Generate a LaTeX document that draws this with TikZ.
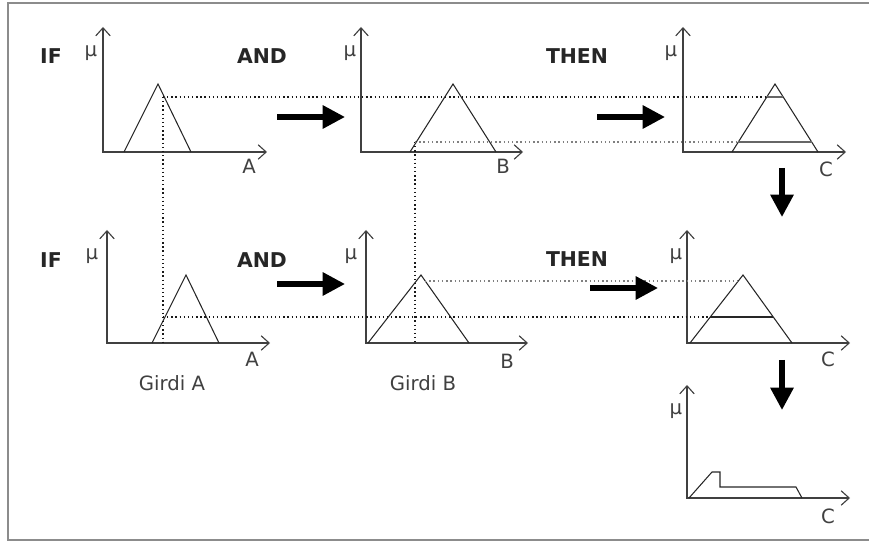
\documentclass[tikz,border=0pt]{standalone}
\usepackage{fontspec}
\setmainfont{DejaVu Sans}
\usetikzlibrary{arrows.meta,positioning}
\tikzset{
  frameline/.style={draw=black!45, line width=1.4pt},
  axisline/.style={{Straight Barb[length=2mm,width=3.6mm]}-{Straight Barb[length=2mm,width=3.6mm]}, draw=black!75, line width=0.8pt},
  setline/.style={draw=black!85, line width=0.75pt, line join=miter},
  cutline/.style={draw=black!60, line width=0.9pt},
  dotline/.style={dotted, draw=black!90, line width=0.95pt},
  graydot/.style={dotted, draw=black!50, line width=1pt},
  bigarrow/.style={-{Triangle[length=5.6mm,width=5.6mm]}, line width=3.6pt, black},
  rulelabel/.style={font=\bfseries\fontsize{14.5}{17}\selectfont, text=black!85, inner sep=0pt},
  axlabel/.style={font=\fontsize{14}{16}\selectfont, text=black!75, inner sep=0pt},
}

\begin{document}
\begin{tikzpicture}[x=0.025cm, y=-0.025cm]
  \useasboundingbox (0,0) rectangle (869,543);
  \draw[frameline] (872,3) -- (8,3) -- (8,540) -- (872,540);

  % panel corners: top of y axis, origin, end of x axis
  \coordinate (aTop) at (103,27);  \coordinate (aO) at (103,152); \coordinate (aEnd) at (267,152);
  \coordinate (bTop) at (361,27);  \coordinate (bO) at (361,152); \coordinate (bEnd) at (523,152);
  \coordinate (cTop) at (683,27);  \coordinate (cO) at (683,152); \coordinate (cEnd) at (846,152);
  \coordinate (dTop) at (107,230); \coordinate (dO) at (107,343); \coordinate (dEnd) at (270,343);
  \coordinate (eTop) at (366,230); \coordinate (eO) at (366,343); \coordinate (eEnd) at (528,343);
  \coordinate (fTop) at (687,230); \coordinate (fO) at (687,343); \coordinate (fEnd) at (850,343);
  \coordinate (gTop) at (687,385); \coordinate (gO) at (687,498); \coordinate (gEnd) at (850,498);

  \draw[axisline] (aTop) -- (aO) -- (aEnd);
  \draw[axisline] (bTop) -- (bO) -- (bEnd);
  \draw[axisline] (cTop) -- (cO) -- (cEnd);
  \draw[axisline] (dTop) -- (dO) -- (dEnd);
  \draw[axisline] (eTop) -- (eO) -- (eEnd);
  \draw[axisline] (fTop) -- (fO) -- (fEnd);
  \draw[axisline] (gTop) -- (gO) -- (gEnd);

  % membership functions
  \draw[setline] (124,152) -- (158,84) -- (191,152);
  \draw[setline] (410,152) -- (453,84) -- (496,152);
  \draw[setline] (732,152) -- (775,84) -- (818,152);
  \draw[setline] (152,343) -- (186,275) -- (219,343);
  \draw[setline] (368,343) -- (421,275) -- (469,343);
  \draw[setline] (690,343) -- (743,275) -- (792,343);
  \draw[setline] (689,498) -- (712,472) -- (720,472) -- (720,487) -- (796,487) -- (802,498);

  % cut levels
  \draw[cutline] (767,97) -- (783,97);
  \draw[cutline] (738,142) -- (812,142);
  \draw[setline] (710,317) -- (773,317);

  % projections
  \coordinate (inA) at (163,97);
  \coordinate (inB) at (415,142);
  \draw[dotline] (inA) -- (767,97);
  \draw[dotline] (inA) -- (163,343);
  \draw[dotline] (inB) -- (415,343);
  \draw[graydot] (inB) -- (738,142);
  \draw[dotline] (163,317) -- (710,317);
  \draw[graydot] (425,281) -- (738,281);

  % rule words
  \node[rulelabel] (if1) at (51,56) {IF};
  \node[rulelabel] (and1) at (262,56) {AND};
  \node[rulelabel] (then1) at (577,56) {THEN};
  \node[rulelabel] (if2) at (51,260) {IF};
  \node[rulelabel] (and2) at (262,260) {AND};
  \node[rulelabel] (then2) at (577,259) {THEN};

  % axis labels
  \node[axlabel] (muA) at (91,53) {μ};
  \node[axlabel] (muB) at (350,53) {μ};
  \node[axlabel] (muC) at (671,53) {μ};
  \node[axlabel] (muD) at (92,256) {μ};
  \node[axlabel] (muE) at (351,256) {μ};
  \node[axlabel] (muF) at (676,256) {μ};
  \node[axlabel] (muG) at (676,411) {μ};
  \node[axlabel] (xA) at (249,166) {A};
  \node[axlabel] (xB) at (503,166) {B};
  \node[axlabel] (xC) at (826,169) {C};
  \node[axlabel] (xD) at (252,359) {A};
  \node[axlabel] (xE) at (507,361) {B};
  \node[axlabel] (xF) at (828,359) {C};
  \node[axlabel] (xG) at (828,516) {C};
  \node[axlabel] (inpA) at (172,383) {Girdi A};
  \node[axlabel] (inpB) at (423,383) {Girdi B};

  % flow arrows
  \coordinate (r1s) at (277,117); \coordinate (r1e) at (345,117);
  \coordinate (r2s) at (597,117); \coordinate (r2e) at (665,117);
  \coordinate (r3s) at (277,284); \coordinate (r3e) at (345,284);
  \coordinate (r4s) at (590,288); \coordinate (r4e) at (658,288);
  \coordinate (d1s) at (782,168); \coordinate (d1e) at (782,217);
  \coordinate (d2s) at (782,360); \coordinate (d2e) at (782,410);
  \draw[bigarrow] (r1s) -- (r1e);
  \draw[bigarrow] (r2s) -- (r2e);
  \draw[bigarrow] (r3s) -- (r3e);
  \draw[bigarrow] (r4s) -- (r4e);
  \draw[bigarrow] (d1s) -- (d1e);
  \draw[bigarrow] (d2s) -- (d2e);
\end{tikzpicture}
\end{document}
